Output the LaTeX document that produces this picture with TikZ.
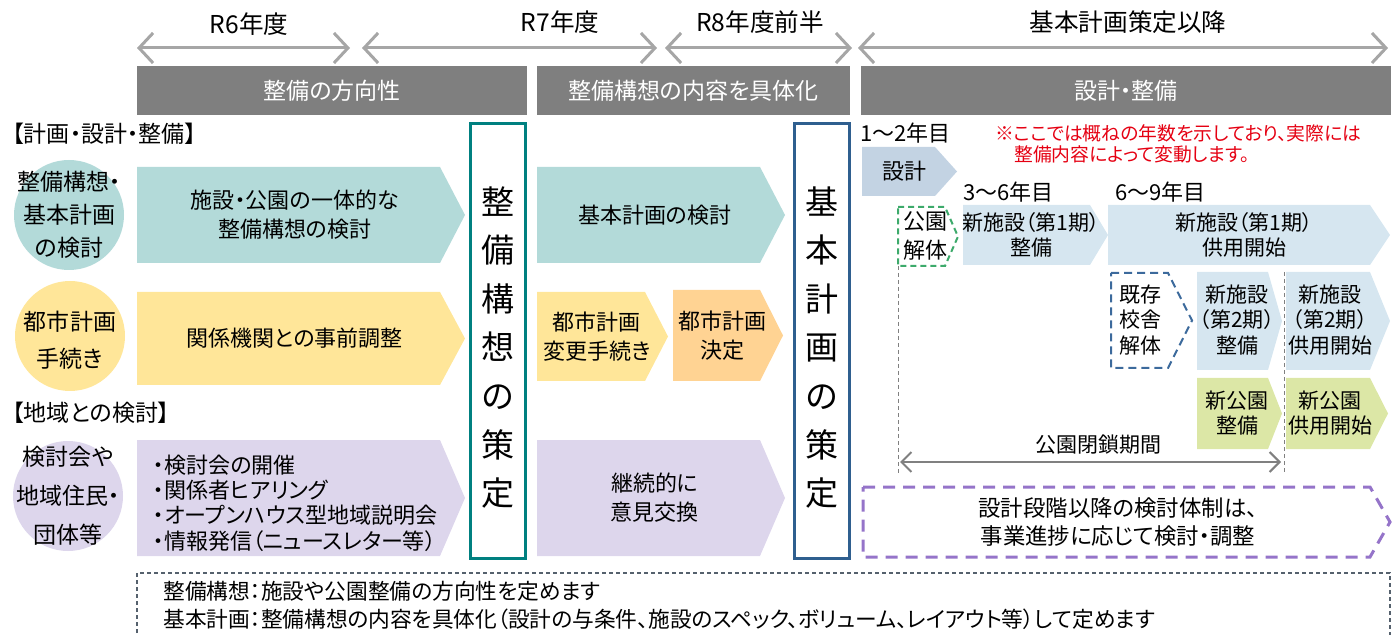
\documentclass[tikz,border=0pt]{standalone}
\usepackage{fontspec}
\setmainfont{Noto Sans CJK JP}[RawFeature=+palt]
\usetikzlibrary{arrows.meta}

\definecolor{bargray}{HTML}{7F7F7F}
\definecolor{arrowgray}{HTML}{A6A6A6}
\definecolor{tealfill}{HTML}{B3DAD9}
\definecolor{yellowfill}{HTML}{FFE699}
\definecolor{orangefill}{HTML}{FFD393}
\definecolor{lilacfill}{HTML}{DDD6EC}
\definecolor{designfill}{HTML}{C3D3E3}
\definecolor{skyfill}{HTML}{D6E6F0}
\definecolor{limefill}{HTML}{DCE7A6}
\definecolor{kosoline}{HTML}{008080}
\definecolor{kihonline}{HTML}{2F5F8F}
\definecolor{notered}{HTML}{E50012}
\definecolor{parkdash}{HTML}{3DAA6B}
\definecolor{schooldash}{HTML}{3C6A9C}
\definecolor{purpledash}{HTML}{9574C9}
\definecolor{notedash}{HTML}{55616D}

\tikzset{
  yeararrow/.style={draw=arrowgray, line width=1.5pt,
    {Straight Barb[length=7pt,width=15pt]}-{Straight Barb[length=7pt,width=15pt]}},
  closearrow/.style={draw=gray, line width=1pt,
    {Straight Barb[length=5pt,width=10pt]}-{Straight Barb[length=5pt,width=10pt]}},
  yeartext/.style={font=\fontsize{12.3}{14}\selectfont},
  phasebar/.style={fill=bargray, text=white, minimum height=24.5pt, inner sep=0pt,
    font=\fontsize{11.5}{14}\selectfont},
  headtext/.style={anchor=west, inner sep=0pt, font=\fontsize{11.5}{14}\selectfont},
  circ/.style={circle, minimum size=55pt, inner sep=0pt},
  circtext/.style={align=center, inner sep=0pt, font=\fontsize{11.5}{16.5}\selectfont},
  flowtext/.style={align=center, inner sep=0pt, font=\fontsize{11}{14.5}\selectfont},
  smalltext/.style={align=center, inner sep=0pt, font=\fontsize{10.5}{12.7}\selectfont},
  stagebox/.style={draw, line width=1.5pt, minimum width=27.5pt, minimum height=217pt, inner sep=0pt},
  stagetext/.style={align=center, inner sep=0pt, font=\fontsize{16.5}{24.3}\selectfont},
  guideline/.style={draw=gray, line width=0.5pt, dash pattern=on 2pt off 1.5pt},
}

% arrow shaped box: name, style, left, top, body end, tip, bottom
\newcommand{\flowbox}[7]{%
  \path[#2] (#3,#4) -- (#5,#4) -- (#6,{(#4+#7)/2}) -- (#5,#7) -- (#3,#7) -- cycle;
  \coordinate (#1) at ({(#3+(#5+#6)/2)/2},{(#4+#7)/2});}

\begin{document}
\begin{tikzpicture}[x=0.5pt,y=-0.5pt]
\useasboundingbox (0,0) rectangle (1400,635);

% years
\coordinate (r6s) at (137,48);
\coordinate (r6e) at (350,48);
\coordinate (r7s) at (362,48);
\coordinate (r7e) at (657,48);
\coordinate (r8s) at (665,48);
\coordinate (r8e) at (852,48);
\coordinate (afs) at (858,48);
\coordinate (afe) at (1388,48);
\draw[yeararrow] (r6s) -- (r6e);
\draw[yeararrow] (r7s) -- (r7e);
\draw[yeararrow] (r8s) -- (r8e);
\draw[yeararrow] (afs) -- (afe);
\node[yeartext] (r6) at (249,24) {R6年度};
\node[yeartext] (r7) at (560,22) {R7年度};
\node[yeartext] (r8) at (760,22) {R8年度前半};
\node[yeartext] (af) at (1128,22) {基本計画策定以降};

% phase bars
\node[phasebar, minimum width=195pt] (ph1) at (332,90.5) {整備の方向性};
\node[phasebar, minimum width=156.5pt] (ph2) at (693.5,90.5) {整備構想の内容を具体化};
\node[phasebar, minimum width=265pt] (ph3) at (1126,90.5) {設計・整備};

% left labels
\node[headtext] (h-plan) at (12,134) {【計画・設計・整備】};
\node[headtext] (h-area) at (12,413) {【地域との検討】};
\node[circ, fill=tealfill] (c-koso) at (69,215) {};
\node[circtext] (t-koso) at (c-koso) {整備構想・\\基本計画\\の検討};
\node[circ, fill=yellowfill] (c-toshi) at (70,336) {};
\node[circtext, font=\fontsize{11.5}{18.5}\selectfont] (t-toshi) at (70,340) {都市計画\\手続き};
\node[circ, fill=lilacfill] (c-chiiki) at (68,496) {};
\node[circtext, font=\fontsize{11.5}{19.5}\selectfont] (t-chiiki) at (c-chiiki) {検討会や\\地域住民・\\団体等};

% R6 - R8
\flowbox{a1}{fill=tealfill}{137}{167}{440}{465}{263}
\node[flowtext] (t-a1) at (a1) {施設・公園の一体的な\\整備構想の検討};
\flowbox{a2}{fill=tealfill}{537}{167}{760}{785}{263}
\node[flowtext] (t-a2) at (a2) {基本計画の検討};
\flowbox{b1}{fill=yellowfill}{137}{292}{440}{465}{385}
\node[flowtext] (t-b1) at (b1) {関係機関との事前調整};
\flowbox{b2}{fill=yellowfill}{537}{292}{645}{668}{381}
\node[flowtext] (t-b2) at (b2) {都市計画\\変更手続き};
\flowbox{b3}{fill=orangefill}{673}{290}{760}{783}{381}
\node[flowtext] (t-b3) at (b3) {都市計画\\決定};
\flowbox{c1}{fill=lilacfill}{137}{440}{440}{465}{556}
\node[flowtext, align=left, anchor=west, font=\fontsize{11}{12.7}\selectfont] (t-c1) at (153,503)
  {・検討会の開催\\・関係者ヒアリング\\・オープンハウス型地域説明会\\・情報発信（ニュースレター等）};
\flowbox{c2}{fill=lilacfill}{537}{440}{760}{785}{556}
\node[flowtext] (t-c2) at (c2) {継続的に\\意見交換};

% decisions
\node[stagebox, draw=kosoline] (koso) at (497.5,341) {};
\node[stagetext] (t-koso2) at (497.5,347.5) {整\\備\\構\\想\\の\\策\\定};
\node[stagebox, draw=kihonline] (kihon) at (822,341) {};
\node[stagetext] (t-kihon) at (822,347.5) {基\\本\\計\\画\\の\\策\\定};

% design and construction
\node[flowtext, anchor=west] (y12) at (860,133) {1～2年目};
\node[anchor=north west, align=left, inner sep=0pt, text=notered, font=\fontsize{9.4}{10.5}\selectfont] (note)
  at (995,124) {※ここでは概ねの年数を示しており、実際には\\\hspace*{1em}整備内容によって変動します。};
\flowbox{d1}{fill=designfill}{862}{147}{935}{957}{196}
\node[flowtext] (t-d1) at (d1) {設計};
\node[flowtext, anchor=west] (y36) at (963,192) {3～6年目};
\node[flowtext, anchor=west] (y69) at (1115,192) {6～9年目};
\flowbox{e0}{draw=parkdash, line width=1pt, dash pattern=on 3pt off 2pt}{898}{207}{945}{958}{266}
\node[flowtext] (t-e0) at (925,236) {公園\\解体};
\flowbox{e1}{fill=skyfill}{963}{205}{1090}{1108}{265}
\node[smalltext] (t-e1) at (e1) {新施設（第1期）\\整備};
\flowbox{e2}{fill=skyfill}{1108}{205}{1370}{1390}{265}
\node[smalltext] (t-e2) at (e2) {新施設（第1期）\\供用開始};
\flowbox{f0}{draw=schooldash, line width=1pt, dash pattern=on 4pt off 2.5pt}{1111}{273}{1168}{1192}{368}
\node[smalltext] (t-f0) at (1140,320) {既存\\校舎\\解体};
\flowbox{f1}{fill=skyfill}{1197}{272}{1268}{1282}{370}
\node[smalltext] (t-f1) at (1237,320) {新施設\\（第2期）\\整備};
\flowbox{f2}{fill=skyfill}{1286}{272}{1370}{1390}{370}
\node[smalltext] (t-f2) at (1330,320) {新施設\\（第2期）\\供用開始};
\flowbox{g1}{fill=limefill}{1197}{378}{1268}{1282}{449}
\node[smalltext] (t-g1) at (1237,413) {新公園\\整備};
\flowbox{g2}{fill=limefill}{1286}{378}{1370}{1388}{449}
\node[smalltext] (t-g2) at (1330,413) {新公園\\供用開始};

% park closed
\coordinate (gl1s) at (898,266);
\coordinate (gl1e) at (898,473);
\coordinate (gl2s) at (1284,272);
\coordinate (gl2e) at (1284,473);
\draw[guideline] (gl1s) -- (gl1e);
\draw[guideline] (gl2s) -- (gl2e);
\coordinate (cls) at (900,462);
\coordinate (cle) at (1281,462);
\draw[closearrow] (cls) -- (cle);
\node[smalltext] (t-close) at (1098,445) {公園閉鎖期間};

\flowbox{p1}{draw=purpledash, line width=1.5pt, dash pattern=on 6pt off 4pt}{863}{487}{1370}{1390}{557}
\node[flowtext, font=\fontsize{11.2}{14}\selectfont] (t-p1) at (1118,522) {設計段階以降の検討体制は、\\事業進捗に応じて検討・調整};

% notes
\coordinate (nb1) at (137,640);
\coordinate (nb2) at (137,573);
\coordinate (nb3) at (1390,573);
\coordinate (nb4) at (1390,640);
\draw[draw=notedash, line width=1pt, dash pattern=on 2pt off 1.5pt] (nb1) -- (nb2) -- (nb3) -- (nb4);
\node[anchor=west, align=left, inner sep=0pt, font=\fontsize{10.85}{14}\selectfont] (t-notes) at (163,605)
  {整備構想：施設や公園整備の方向性を定めます\\基本計画：整備構想の内容を具体化（設計の与条件、施設のスペック、ボリューム、レイアウト等）して定めます};
\end{tikzpicture}
\end{document}
